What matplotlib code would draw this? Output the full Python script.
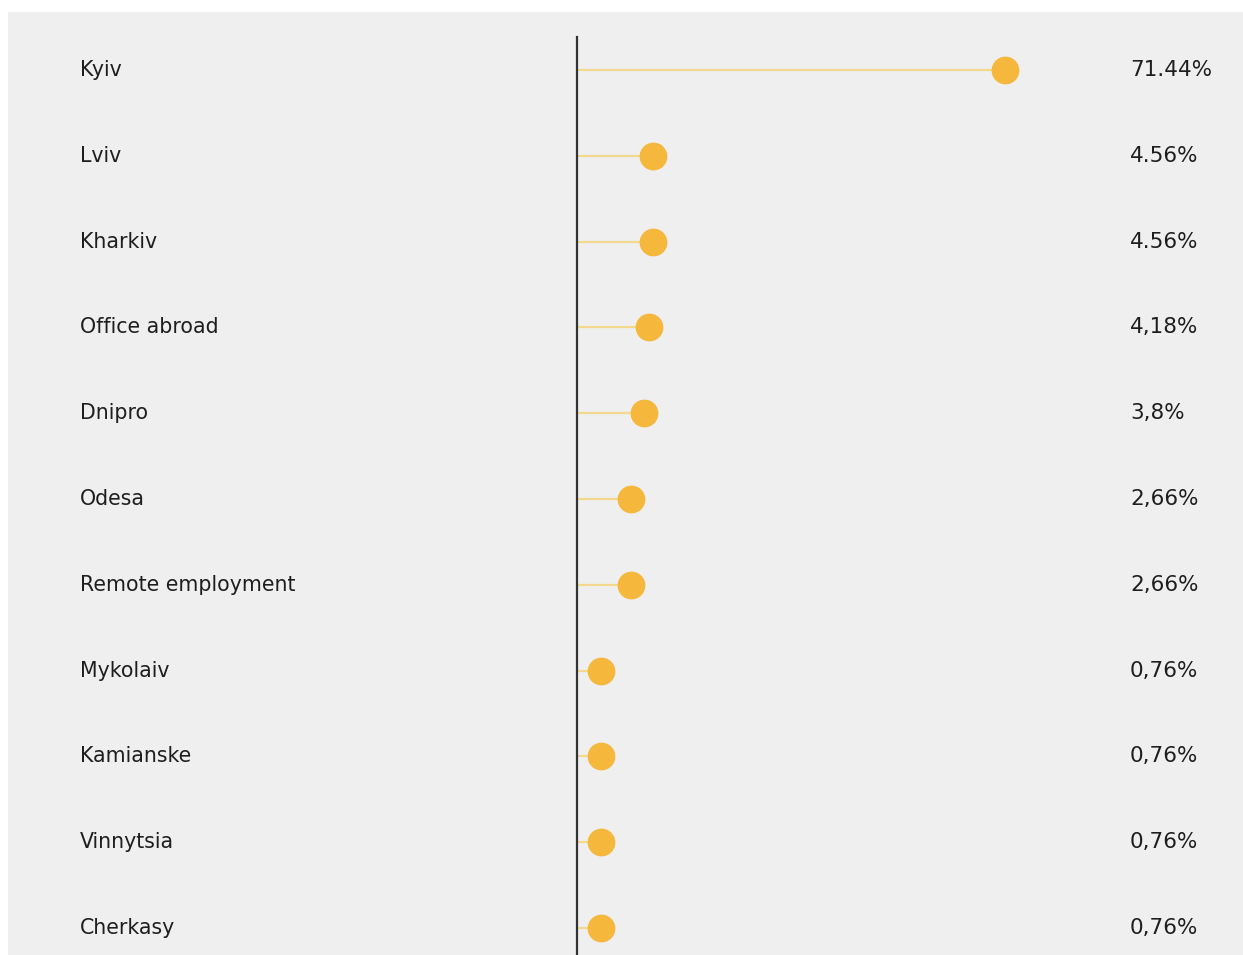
import matplotlib.pyplot as plt
import matplotlib.transforms as mtransforms
from matplotlib.patches import Rectangle

# Data
cities = ['Kyiv', 'Lviv', 'Kharkiv', 'Office abroad', 'Dnipro', 'Odesa',
          'Remote employment', 'Mykolaiv', 'Kamianske', 'Vinnytsia', 'Cherkasy']
shares = [71.44, 4.56, 4.56, 4.18, 3.8, 2.66, 2.66, 0.76, 0.76, 0.76, 0.76]
share_labels = ['71.44%', '4.56%', '4.56%', '4,18%', '3,8%', '2,66%', '2,66%',
                '0,76%', '0,76%', '0,76%', '0,76%']

W, H = 1243, 955
fig = plt.figure(figsize=(W / 100, H / 100), dpi=100, facecolor='white')

# grey card behind the chart
fig.patches.append(Rectangle((8 / W, 0), 1 - 8 / W, 1 - 12 / H,
                             transform=fig.transFigure, facecolor='#efefef',
                             edgecolor='none', zorder=-5))

x0, x1 = 577, 1100
ax = fig.add_axes([x0 / W, 0, (x1 - x0) / W, 1 - 37 / H])
ax.set_facecolor('none')
ax.set_zorder(2)

# the dot lengths look power-scaled in the original
p = 0.63
ax.set_xscale('function', functions=(lambda x: abs(x) ** p,
                                     lambda x: abs(x) ** (1 / p)))
ax.set_xlim(0, 98.1)

step = 85.8
first = 70
ax.set_ylim((H - first) / step, -(first - 37) / step)

rows = list(range(len(cities)))
ax.hlines(rows, 0, shares, color='#f3d98f', lw=1.6, zorder=2)
ax.plot(shares, rows, 'o', color='#f5b83d', markersize=19, zorder=3, clip_on=False)

for s in ['top', 'right', 'bottom']:
    ax.spines[s].set_visible(False)
ax.spines['left'].set_color('#333333')
ax.spines['left'].set_linewidth(1.6)
ax.set_xticks([])
ax.set_yticks([])

trans = mtransforms.blended_transform_factory(fig.transFigure, ax.transData)
for i, (c, lab) in enumerate(zip(cities, share_labels)):
    ax.text(80 / W, i, c, transform=trans, ha='left', va='center',
            fontsize=14.8, color='#1e1e1e', clip_on=False)
    ax.text(1130 / W, i, lab, transform=trans, ha='left', va='center',
            fontsize=15.5, color='#1e1e1e', clip_on=False)

fig.savefig('out.png', dpi=100, facecolor='white')
